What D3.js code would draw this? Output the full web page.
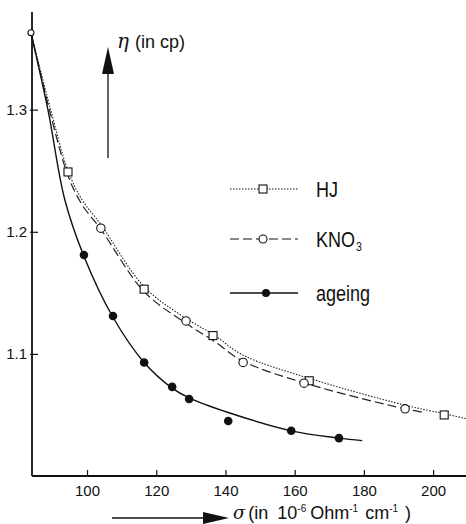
<!DOCTYPE html>
<html>
<head>
<meta charset="utf-8">
<script src="https://cdn.jsdelivr.net/npm/d3@7"></script>
<style>
  body { margin: 0; background: #fff; }
  text { font-family: "Liberation Sans", Arial, sans-serif; fill: #111; }
</style>
</head>
<body>
<svg id="chart" width="466" height="524"></svg>
<script>
// measured points (sigma in 1e-6 Ohm^-1 cm^-1, eta in cp)
var hjPoints = [[83.8, 1.363], [94.5, 1.249], [116.5, 1.153], [136.4, 1.115], [164.2, 1.078], [203.2, 1.050]];
var kno3Points = [[83.8, 1.363], [104.0, 1.203], [128.6, 1.127], [145.1, 1.093], [162.7, 1.076], [191.9, 1.055]];
var ageingPoints = [[99.1, 1.181], [107.5, 1.131], [116.5, 1.093], [124.6, 1.073], [129.5, 1.063],
                    [140.8, 1.045], [159.0, 1.037], [172.8, 1.031]];

// fitted curves
var hjCurve = [[83.8, 1.363], [89.5, 1.300], [94.5, 1.250], [98.6, 1.226], [104.0, 1.206], [116.5, 1.155],
               [128.6, 1.129], [136.4, 1.116], [145.1, 1.099], [164.2, 1.080], [191.9, 1.058], [203.2, 1.051], [209.5, 1.047]];
var kno3Curve = [[83.8, 1.363], [89.3, 1.298], [94.5, 1.246], [98.6, 1.222], [104.0, 1.202], [116.5, 1.151],
                 [128.6, 1.125], [136.4, 1.111], [145.1, 1.094], [164.2, 1.075], [191.9, 1.055], [197.5, 1.052]];
var ageingCurve = [[83.8, 1.363], [88.7, 1.300], [93.6, 1.226], [99.1, 1.180], [107.5, 1.130], [116.5, 1.093],
                   [124.6, 1.072], [129.5, 1.064], [140.8, 1.052], [159.0, 1.037], [172.8, 1.031], [179.5, 1.029]];

var xTicks = [100, 120, 140, 160, 180, 200];
var yTicks = [1.1, 1.2, 1.3];

var svg = d3.select("#chart");

var x = d3.scaleLinear().domain([84.1, 209.5]).range([32, 466]);
var y = d3.scaleLinear().domain([1.0, 1.38]).range([476, 12]);

var lineGen = d3.line()
    .x(function(d) { return x(d[0]); })
    .y(function(d) { return y(d[1]); })
    .curve(d3.curveCatmullRom);

// axes
var xAxis = d3.axisBottom(x).tickValues(xTicks).tickSize(-6).tickPadding(9).tickFormat(d3.format("d"));
var gx = svg.append("g").attr("transform", "translate(0,476)").call(xAxis);
gx.select(".domain").attr("d", "M32,0H466").attr("stroke", "#111").attr("stroke-width", 1.8);
gx.selectAll(".tick line").attr("stroke", "#111").attr("stroke-width", 1.2);
gx.selectAll(".tick text").style("font-size", "15px").attr("fill", "#111");

var yAxis = d3.axisLeft(y).tickValues(yTicks).tickSize(-6).tickPadding(6).tickFormat(d3.format(".1f"));
var gy = svg.append("g").attr("transform", "translate(32,0)").call(yAxis);
gy.select(".domain").attr("d", "M0,12V476").attr("stroke", "#111").attr("stroke-width", 1.8);
gy.selectAll(".tick line").attr("stroke", "#111").attr("stroke-width", 1.2).attr("x1", -2);
gy.selectAll(".tick text").style("font-size", "15px").attr("fill", "#111").attr("x", -5);

// curves
svg.append("path").datum(hjCurve).attr("d", lineGen)
    .attr("fill", "none").attr("stroke", "#222").attr("stroke-width", 1.1)
    .attr("stroke-dasharray", "1.5,1.5");
svg.append("path").datum(kno3Curve).attr("d", lineGen)
    .attr("fill", "none").attr("stroke", "#222").attr("stroke-width", 1.2)
    .attr("stroke-dasharray", "9,4");
svg.append("path").datum(ageingCurve).attr("d", lineGen)
    .attr("fill", "none").attr("stroke", "#111").attr("stroke-width", 1.4);

// markers
svg.selectAll(".hj").data(hjPoints.slice(1)).join("rect")
    .attr("class", "hj")
    .attr("x", function(d) { return x(d[0]) - 4; })
    .attr("y", function(d) { return y(d[1]) - 4; })
    .attr("width", 8).attr("height", 8)
    .attr("fill", "#fff").attr("stroke", "#111").attr("stroke-width", 1.1);

svg.selectAll(".kno3").data(kno3Points).join("circle")
    .attr("class", "kno3")
    .attr("cx", function(d) { return x(d[0]); })
    .attr("cy", function(d) { return y(d[1]); })
    .attr("r", function(d, i) { return i == 0 ? 3 : 4.2; })
    .attr("fill", "#fff").attr("stroke", "#111").attr("stroke-width", 1.1);

svg.selectAll(".ageing").data(ageingPoints).join("circle")
    .attr("class", "ageing")
    .attr("cx", function(d) { return x(d[0]); })
    .attr("cy", function(d) { return y(d[1]); })
    .attr("r", 4.3)
    .attr("fill", "#111");

// legend
var legend = [
    { label: "HJ", y: 189, dash: "1.5,1.5", marker: "square" },
    { label: "KNO", sub: "3", y: 239, dash: "9,4", marker: "open" },
    { label: "ageing", y: 293, dash: null, marker: "filled" }
];
var lg = svg.append("g");
legend.forEach(function(d) {
    lg.append("line").attr("x1", 230).attr("x2", 298).attr("y1", d.y).attr("y2", d.y)
        .attr("stroke", "#111").attr("stroke-width", d.dash ? 1.1 : 1.3)
        .attr("stroke-dasharray", d.dash);
    if (d.marker == "square") {
        lg.append("rect").attr("x", 259).attr("y", d.y - 4).attr("width", 8).attr("height", 8)
            .attr("fill", "#fff").attr("stroke", "#111").attr("stroke-width", 1.1);
    } else if (d.marker == "open") {
        lg.append("circle").attr("cx", 263).attr("cy", d.y).attr("r", 4)
            .attr("fill", "#fff").attr("stroke", "#111").attr("stroke-width", 1.1);
    } else {
        lg.append("circle").attr("cx", 266).attr("cy", d.y).attr("r", 4).attr("fill", "#111");
    }
    // narrow lettering, as in the original figure
    var t = lg.append("text")
        .attr("transform", "translate(316," + (d.y + 8) + ") scale(0.82,1)")
        .style("font-size", "22px");
    t.append("tspan").text(d.label);
    if (d.sub) {
        t.append("tspan").attr("dx", 1).attr("dy", 4).style("font-size", "13px").text(d.sub);
    }
});

// y label
svg.append("path").attr("d", "M108,158V74").attr("stroke", "#111").attr("stroke-width", 1.3);
svg.append("path").attr("d", "M108,47L114,74L102,74Z").attr("fill", "#111");
var yl = svg.append("text").attr("x", 117).attr("y", 48).style("font-size", "18px");
yl.append("tspan").style("font-style", "italic").style("font-family", "'DejaVu Serif', serif").style("font-size", "20px").text("η");
yl.append("tspan").attr("dx", 6).text("(in cp)");

// x label
svg.append("path").attr("d", "M112,518H204").attr("stroke", "#111").attr("stroke-width", 1.3);
svg.append("path").attr("d", "M229,518L203,512L203,524Z").attr("fill", "#111");
var xl = svg.append("text").attr("x", 233).attr("y", 519).style("font-size", "18px");
xl.append("tspan").style("font-style", "italic").style("font-family", "'DejaVu Serif', serif").text("σ");
xl.append("tspan").attr("dx", 3).text("(in");
xl.append("tspan").attr("dx", 9).text("10");
xl.append("tspan").attr("dy", -7).style("font-size", "10px").text("-6");
xl.append("tspan").attr("dy", 7).attr("dx", 4).text("Ohm");
xl.append("tspan").attr("dy", -7).style("font-size", "10px").text("-1");
xl.append("tspan").attr("dy", 7).attr("dx", 7).text("cm");
xl.append("tspan").attr("dy", -7).style("font-size", "10px").text("-1");
xl.append("tspan").attr("dy", 7).attr("dx", 7).text(")");
</script>
</body>
</html>
